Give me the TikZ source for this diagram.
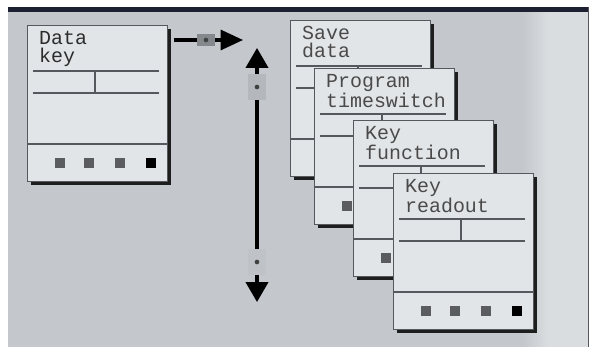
\documentclass[tikz,border=0pt]{standalone}
\usepackage{fontspec}
\setmonofont{Liberation Mono}
\usetikzlibrary{arrows.meta,positioning,calc}
\definecolor{panelgray}{HTML}{C4C7CB}
\definecolor{striplight}{HTML}{DADDE0}
\definecolor{topband}{HTML}{1C2030}
\definecolor{screenfill}{HTML}{E2E5E8}
\definecolor{linegray}{HTML}{55585C}
\definecolor{shadowblack}{HTML}{1E1E1E}
\definecolor{buttongray}{HTML}{5A5C5F}
\definecolor{titledark}{HTML}{2C2C2C}
\definecolor{titlegray}{HTML}{4A4A4A}
\definecolor{sliderdark}{HTML}{85888C}
\definecolor{sliderlight}{HTML}{B4B7BB}

\begin{document}
\begin{tikzpicture}[
  x=0.03cm, y=-0.03cm,
  screen/.style={draw=linegray, line width=0.6pt, fill=screenfill, minimum width=4.2cm, minimum height=4.68cm, inner sep=0pt, anchor=north west},
  title/.style={font=\ttfamily\fontsize{17}{15.4}\selectfont, align=left, inner sep=0pt, anchor=north west},
  rule/.style={draw=linegray, line width=1.1pt},
  shadow/.style={draw=shadowblack, line width=2.6pt},
  button/.style={fill=buttongray, minimum size=0.29cm, inner sep=0pt},
  slider/.style={fill=sliderlight, inner sep=0pt, minimum width=0.54cm, path picture={\fill[black!75] (path picture bounding box.center) circle (0.07cm);}},
  bigarrow/.style={line width=2.6pt, -{Triangle[length=19pt,width=17pt]}},
  scrollarrow/.style={line width=2.6pt, {Triangle[length=17pt,width=19pt]}-{Triangle[length=17pt,width=19pt]}}
]
\useasboundingbox (0,0) rectangle (592,347);
% panel background
\fill[panelgray] (8,7) rectangle (588,347);
\shade[left color=panelgray, right color=striplight] (522,12) rectangle (548,347);
\fill[striplight] (548,12) rectangle (588,347);
\fill[topband] (8,7) rectangle (588,12);
\draw[linegray, line width=0.8pt] (588,7) -- (588,347);

% screens, back to front
\foreach \s/\px/\py/\txt/\col in {datakey/27/25/{Data\\key}/titledark,
    savedata/290/20/{Save\\data}/titlegray,
    timeswitch/314/68/{Program\\timeswitch}/titlegray,
    keyfunction/353/120/{Key\\function}/titlegray,
    keyreadout/393/173/{Key\\readout}/titlegray}{
  \node[screen] (\s) at (\px,\py) {};
  \draw[shadow] ($(\s.north east)+(1.5,4)$) |- ($(\s.south west)+(4,1.5)$);
  \node[title, text=\col] (\s-title) at ($(\s.north west)+(12,6)$) {\txt};
  \draw[rule] ($(\s.north west)+(6,46)$) -- ($(\s.north east)+(-9,46)$);
  \draw[rule] ($(\s.north west)+(6,68)$) -- ($(\s.north east)+(-9,68)$);
  \draw[rule] ($(\s.north west)+(68,46)$) -- ($(\s.north west)+(68,68)$);
  \draw[rule] ($(\s.north west)+(0,119)$) -- ($(\s.north east)+(0,119)$);
  \foreach \bx in {33,62,93}
    \node[button] (\s-b\bx) at ($(\s.north west)+(\bx,138)$) {};
  \node[button, fill=black] (\s-b124) at ($(\s.north west)+(124,138)$) {};
}

% next screen arrow
\coordinate (nextscreen) at (243,40);
\draw[bigarrow] ($(datakey.north east)+(6,15)$) -- (nextscreen);
\node[slider, fill=sliderdark, minimum height=0.36cm] (nextmark) at (206,40) {};

% scroll arrow
\coordinate (scrolltop) at (257,48);
\coordinate (scrollbottom) at (257,302);
\draw[scrollarrow] (scrolltop) -- (scrollbottom);
\node[slider, minimum height=0.8cm] (upmark) at (257,87) {};
\node[slider, fill=panelgray!70!sliderlight, minimum height=0.8cm] (downmark) at (257,262) {};
\end{tikzpicture}
\end{document}
